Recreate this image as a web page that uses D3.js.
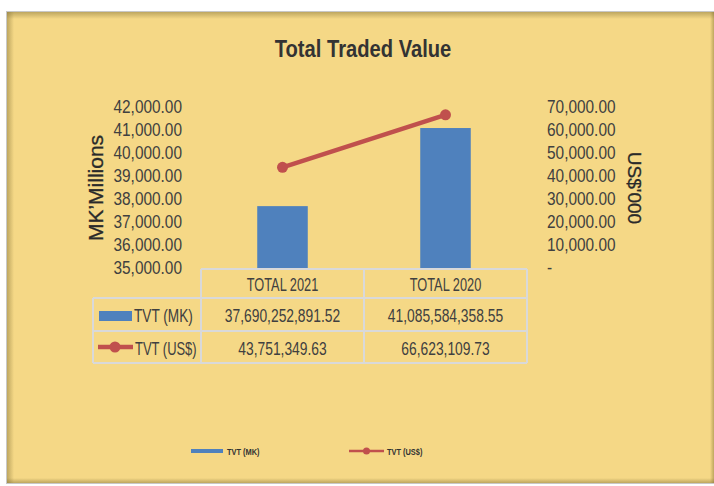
<!DOCTYPE html>
<html><head><meta charset="utf-8">
<script src="https://cdn.jsdelivr.net/npm/d3@7"></script>
<style>html,body{margin:0;padding:0;background:#fff;}svg{display:block;}</style>
</head><body>
<svg id="c" width="714" height="486"></svg>
<script>
const categories = ["TOTAL 2021", "TOTAL 2020"];
const seriesNames = ["TVT (MK)", "TVT (US$)"];
const mkRaw = [37690252891.52, 41085584358.55];
const usdRaw = [43751349.63, 66623109.73];
const leftTicks = [35000, 36000, 37000, 38000, 39000, 40000, 41000, 42000];
const rightTicks = [0, 10000, 20000, 30000, 40000, 50000, 60000, 70000];
const leftTitle = "MK\u2019Millions";
const rightTitle = "US$'000";
const titleText = "Total Traded Value";

const mkMillions = mkRaw.map(v => v / 1e6);
const usdThousands = usdRaw.map(v => v / 1e3);

const BLUE = "#4F81BD", RED = "#C0504D", BG = "#F5D886", TXT = "#404040", GRID = "#D9D9D9";
const FONT = "'Liberation Sans', Arial, sans-serif";

function squeeze(sel, f) {
  sel.each(function () {
    const L = this.getComputedTextLength();
    this.setAttribute("textLength", (L * f).toFixed(2));
    this.setAttribute("lengthAdjust", "spacingAndGlyphs");
  });
}

const svg = d3.select("#c");
const defs = svg.append("defs");

// background panel with inner shadow
const X0 = 7, Y0 = 12, X1 = 714, Y1 = 483;
svg.append("rect").attr("x", X0 - 1).attr("y", Y0 - 1).attr("width", X1 - X0 + 2).attr("height", Y1 - Y0 + 2).attr("fill", "#C8C8C8");
svg.append("rect").attr("x", X0).attr("y", Y0).attr("width", X1 - X0).attr("height", Y1 - Y0).attr("fill", BG);
function grad(id, x1, y1, x2, y2) {
  const g = defs.append("linearGradient").attr("id", id).attr("x1", x1).attr("y1", y1).attr("x2", x2).attr("y2", y2);
  g.append("stop").attr("offset", "0").attr("stop-color", "#7a6a30").attr("stop-opacity", 0.45);
  g.append("stop").attr("offset", "1").attr("stop-color", "#7a6a30").attr("stop-opacity", 0);
}
grad("gT", 0, 0, 0, 1); grad("gL", 0, 0, 1, 0); grad("gB", 0, 1, 0, 0); grad("gR", 1, 0, 0, 0);
svg.append("rect").attr("x", X0).attr("y", Y0).attr("width", X1 - X0).attr("height", 7).attr("fill", "url(#gT)");
svg.append("rect").attr("x", X0).attr("y", Y0).attr("width", 7).attr("height", Y1 - Y0).attr("fill", "url(#gL)");
svg.append("rect").attr("x", X0).attr("y", Y1 - 5).attr("width", X1 - X0).attr("height", 5).attr("fill", "url(#gB)");
svg.append("rect").attr("x", X1 - 4).attr("y", Y0).attr("width", 4).attr("height", Y1 - Y0).attr("fill", "url(#gR)");

// title
svg.append("text").attr("x", 363).attr("y", 57).attr("text-anchor", "middle")
  .attr("font-family", FONT).attr("font-weight", "bold").attr("font-size", 24).attr("fill", "#333")
  .text(titleText).call(squeeze, 0.84);

// scales
const x = d3.scaleBand().domain(categories).range([201, 527]).paddingInner(0).paddingOuter(0);
const yL = d3.scaleLinear().domain([35000, 42000]).range([268, 107]);
const yR = d3.scaleLinear().domain([0, 70000]).range([268, 107]);
const fmt = d3.format(",.2f");

// left axis
const axL = svg.append("g").attr("transform", "translate(182,0)")
  .call(d3.axisLeft(yL).tickValues(leftTicks).tickSize(0).tickPadding(0).tickFormat(fmt));
axL.select(".domain").remove();
axL.selectAll("text").attr("font-family", FONT).attr("font-size", 17.5).attr("fill", TXT).call(squeeze, 0.88);

// right axis
const axR = svg.append("g").attr("transform", "translate(547,0)")
  .call(d3.axisRight(yR).tickValues(rightTicks).tickSize(0).tickPadding(0).tickFormat(d => d === 0 ? "-" : fmt(d)));
axR.select(".domain").remove();
axR.selectAll("text").attr("font-family", FONT).attr("font-size", 17.5).attr("fill", TXT).call(squeeze, 0.88);

// axis titles
svg.append("text").attr("transform", "translate(103,188) rotate(-90)").attr("text-anchor", "middle")
  .attr("font-family", FONT).attr("font-size", 21).attr("fill", "#2a2a2a").attr("stroke", "#2a2a2a").attr("stroke-width", 0.3).text(leftTitle);
svg.append("text").attr("transform", "translate(628,188) rotate(90)").attr("text-anchor", "middle")
  .attr("font-family", FONT).attr("font-size", 19).attr("fill", "#2a2a2a").attr("stroke", "#2a2a2a").attr("stroke-width", 0.3).text(rightTitle);

// bars
const bw = x.bandwidth() * 0.31;
svg.selectAll("rect.bar").data(categories).enter().append("rect").attr("class", "bar")
  .attr("x", (d) => x(d) + x.bandwidth() / 2 - bw / 2)
  .attr("width", bw)
  .attr("y", (d, i) => yL(mkMillions[i]))
  .attr("height", (d, i) => yL(35000) - yL(mkMillions[i]))
  .attr("fill", BLUE);

// line
const line = d3.line().x((d, i) => x(categories[i]) + x.bandwidth() / 2).y(d => yR(d));
svg.append("path").datum(usdThousands).attr("d", line).attr("fill", "none")
  .attr("stroke", RED).attr("stroke-width", 4.5).attr("stroke-linecap", "round");
svg.selectAll("circle.pt").data(usdThousands).enter().append("circle").attr("class", "pt")
  .attr("cx", (d, i) => x(categories[i]) + x.bandwidth() / 2).attr("cy", d => yR(d)).attr("r", 5.5).attr("fill", RED);

// data table
const rows = [269, 298, 331, 363];
const tbl = svg.append("g").attr("stroke", GRID).attr("stroke-width", 2).attr("fill", "none");
tbl.append("line").attr("x1", 201).attr("x2", 527).attr("y1", rows[0]).attr("y2", rows[0]);
tbl.append("line").attr("x1", 93).attr("x2", 527).attr("y1", rows[1]).attr("y2", rows[1]);
tbl.append("line").attr("x1", 93).attr("x2", 527).attr("y1", rows[2]).attr("y2", rows[2]);
tbl.append("line").attr("x1", 93).attr("x2", 527).attr("y1", rows[3]).attr("y2", rows[3]);
tbl.append("line").attr("x1", 93).attr("x2", 93).attr("y1", rows[1]).attr("y2", rows[3]);
[201, 364, 527].forEach(xx => tbl.append("line").attr("x1", xx).attr("x2", xx).attr("y1", rows[0]).attr("y2", rows[3]));

const tfont = (s) => s.attr("font-family", FONT).attr("font-size", 17.5).attr("fill", TXT);
svg.selectAll("text.hdr").data(categories).enter().append("text").attr("class", "hdr")
  .attr("x", d => x(d) + x.bandwidth() / 2).attr("y", 291).attr("text-anchor", "middle").call(tfont).text(d => d).call(squeeze, 0.73);
svg.selectAll("text.mk").data(mkRaw).enter().append("text").attr("class", "mk")
  .attr("x", (d, i) => x(categories[i]) + x.bandwidth() / 2).attr("y", 322).attr("text-anchor", "middle").call(tfont).text(d => fmt(d)).call(squeeze, 0.79);
svg.selectAll("text.us").data(usdRaw).enter().append("text").attr("class", "us")
  .attr("x", (d, i) => x(categories[i]) + x.bandwidth() / 2).attr("y", 355).attr("text-anchor", "middle").call(tfont).text(d => fmt(d)).call(squeeze, 0.79);

// legend keys in table
svg.append("rect").attr("x", 99).attr("y", 311).attr("width", 33).attr("height", 10).attr("fill", BLUE);
svg.append("text").attr("x", 134).attr("y", 322).call(tfont).text(seriesNames[0]).call(squeeze, 0.78);
svg.append("line").attr("x1", 98).attr("x2", 133).attr("y1", 347).attr("y2", 347).attr("stroke", RED).attr("stroke-width", 4.5);
svg.append("circle").attr("cx", 115).attr("cy", 347).attr("r", 5.5).attr("fill", RED);
svg.append("text").attr("x", 135).attr("y", 355).call(tfont).text(seriesNames[1]).call(squeeze, 0.74);

// bottom legend
svg.append("line").attr("x1", 191).attr("x2", 223).attr("y1", 451).attr("y2", 451).attr("stroke", BLUE).attr("stroke-width", 4);
svg.append("text").attr("x", 227).attr("y", 454.5).attr("font-family", FONT).attr("font-weight", "bold").attr("font-size", 9.5).attr("fill", "#333").text(seriesNames[0]).call(squeeze, 0.78);
svg.append("line").attr("x1", 349).attr("x2", 384).attr("y1", 451).attr("y2", 451).attr("stroke", RED).attr("stroke-width", 2.5);
svg.append("circle").attr("cx", 366.5).attr("cy", 451).attr("r", 3.5).attr("fill", RED);
svg.append("text").attr("x", 387).attr("y", 454.5).attr("font-family", FONT).attr("font-weight", "bold").attr("font-size", 9.5).attr("fill", "#333").text(seriesNames[1]).call(squeeze, 0.78);
</script>
</body></html>
